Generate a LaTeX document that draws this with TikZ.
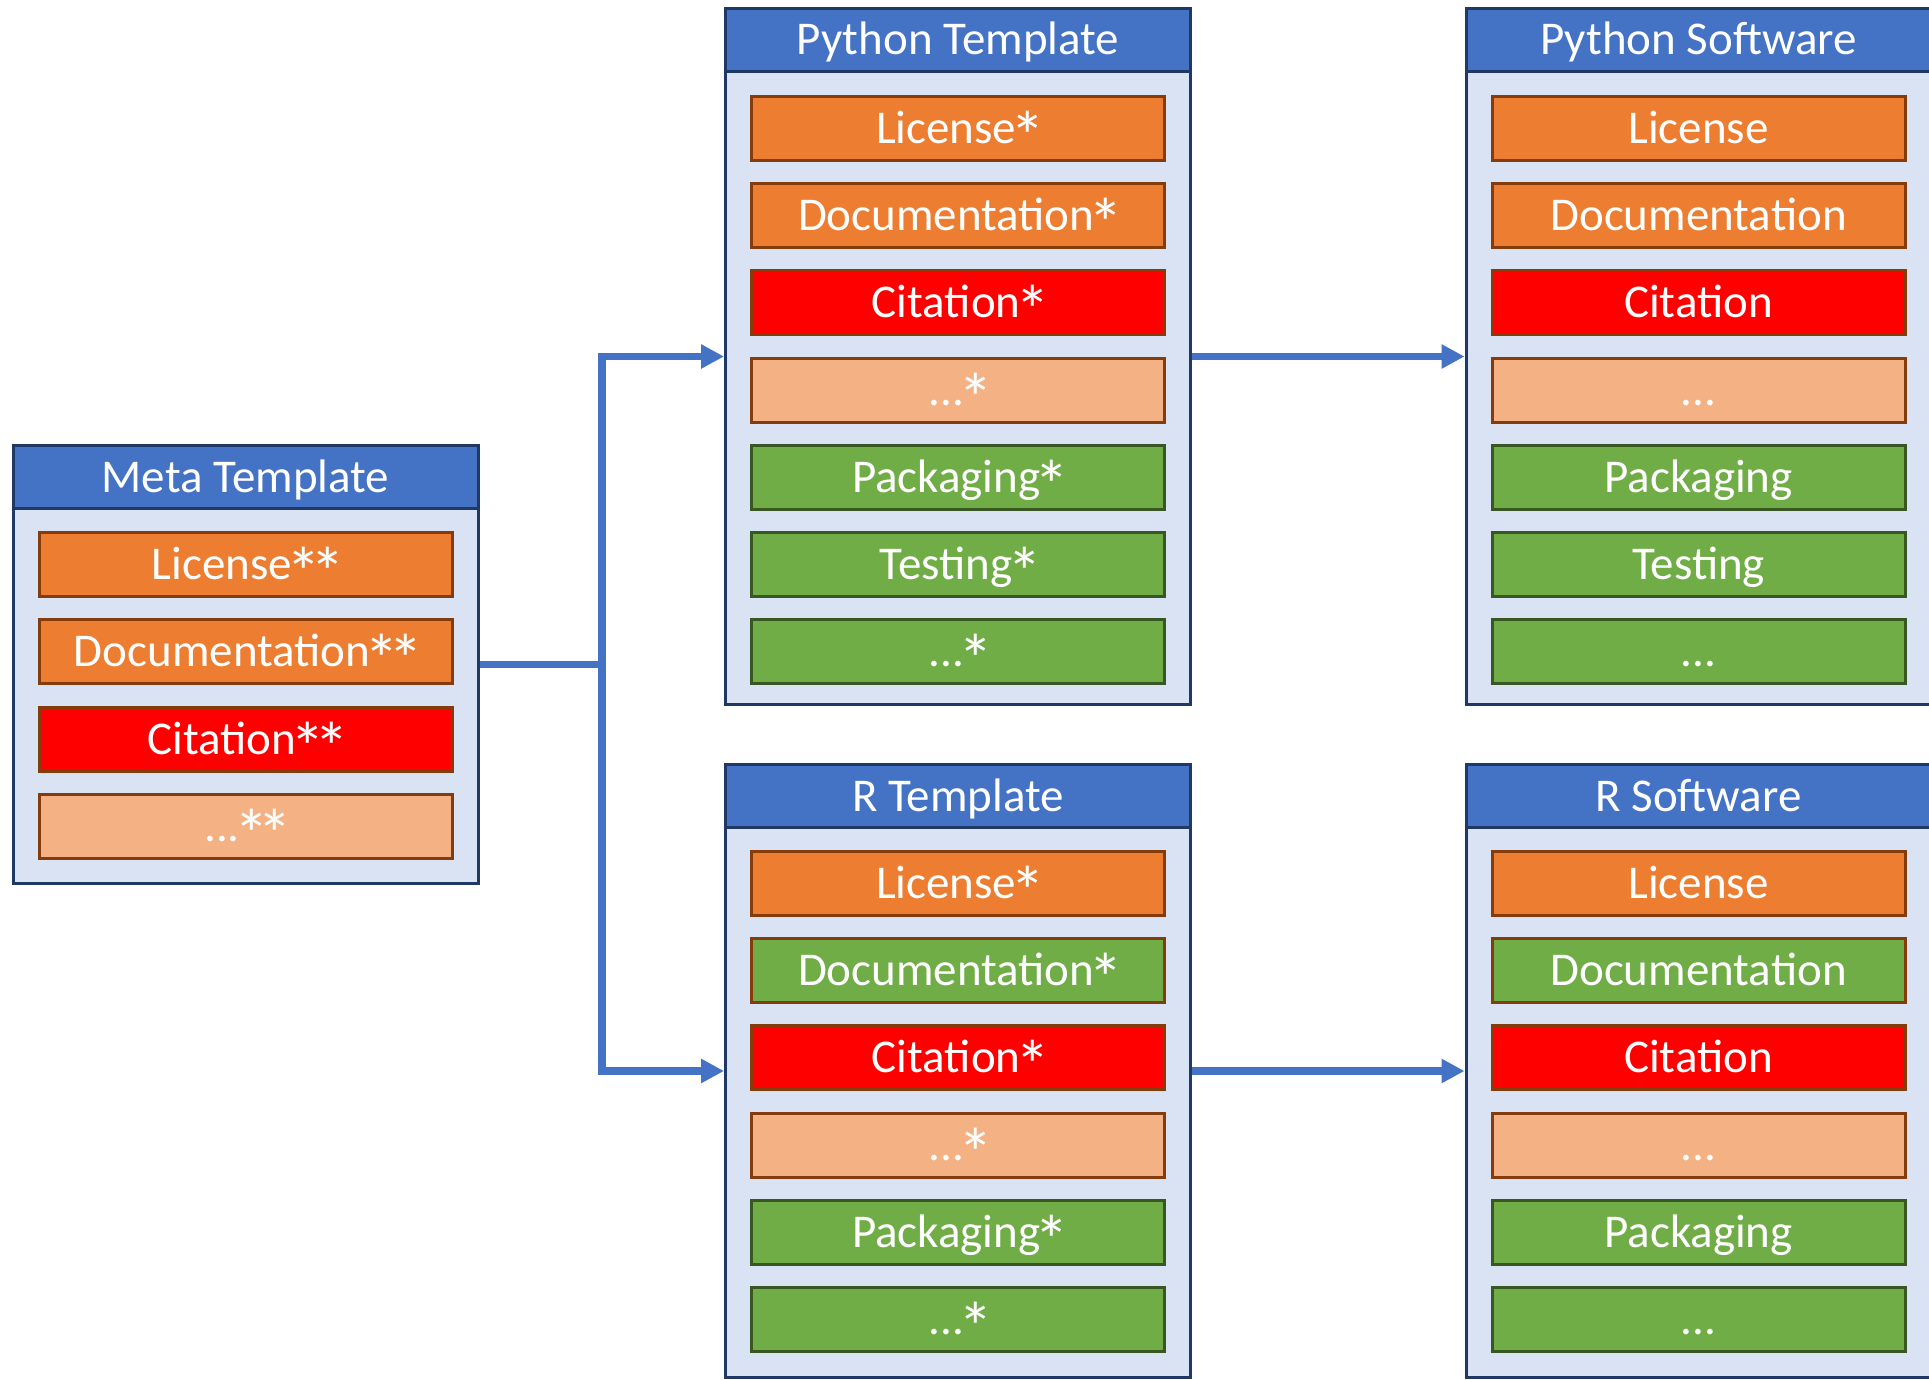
\documentclass[tikz,border=0pt]{standalone}
\usepackage{fontspec}
\usepackage{graphicx}
\setmainfont{Carlito}
\usetikzlibrary{arrows.meta}
\definecolor{hdrblue}{HTML}{4472C4}
\definecolor{panelfill}{HTML}{DAE3F3}
\definecolor{paneldraw}{HTML}{1F3864}
\definecolor{corange}{HTML}{ED7D31}
\definecolor{cred}{HTML}{FF0000}
\definecolor{clight}{HTML}{F4B183}
\definecolor{cgreen}{HTML}{70AD47}
\definecolor{bbrown}{HTML}{843C0C}
\definecolor{bgreen}{HTML}{385723}
\newcommand{\myast}{\makebox[0.5em]{\raisebox{-0.36em}{\scalebox{1.48}{*}}}}
\begin{document}
\begin{tikzpicture}[x=1pt,y=-1pt,
  bigfont/.style={font=\fontsize{47}{56}\selectfont},
  panel/.style={draw=paneldraw, fill=panelfill, line width=3pt, minimum width=465pt, inner sep=0pt},
  header/.style={draw=paneldraw, fill=hdrblue, line width=3pt, minimum width=465pt, minimum height=63pt, inner sep=0pt, text=white, text height=30pt, text depth=0pt, bigfont},
  itembox/.style={draw=bbrown, line width=3pt, minimum width=413pt, minimum height=64pt, inner sep=0pt, text=white, text height=30pt, text depth=0pt, bigfont},
  orangebox/.style={itembox, fill=corange},
  redbox/.style={itembox, fill=cred},
  lightbox/.style={itembox, fill=clight},
  greenbox/.style={itembox, fill=cgreen, draw=bgreen},
  greenbrown/.style={itembox, fill=cgreen, draw=bbrown},
  conn/.style={draw=hdrblue, line width=7.5pt},
  connarrow/.style={conn, -{Triangle[length=23pt,width=23pt]}}
]
\useasboundingbox (0,0) rectangle (1929,1380);
\fill[white] (0,0) rectangle (1929,1380);

% ---------- Meta Template ----------
\node[panel, minimum height=438pt] (meta) at (245.5,664.5) {};
\node[header] (metah) at (245.5,477) {Meta Template};
\node[orangebox] (m1) at (245.5,564.5) {License\myast\myast};
\node[orangebox] (m2) at (245.5,651.8) {Documentation\myast\myast};
\node[redbox]    (m3) at (245.5,739.1) {Citation\myast\myast};
\node[lightbox]  (m4) at (245.5,826.4) {...\myast\myast};

% ---------- Python Template ----------
\node[panel, minimum height=696pt] (pt) at (958,356.5) {};
\node[header] (pth) at (958,40) {Python Template};
\node[orangebox] (pt1) at (958,128.5) {License\myast};
\node[orangebox] (pt2) at (958,215.7) {Documentation\myast};
\node[redbox]    (pt3) at (958,302.9) {Citation\myast};
\node[lightbox]  (pt4) at (958,390.1) {...\myast};
\node[greenbox]  (pt5) at (958,477.3) {Packaging\myast};
\node[greenbox]  (pt6) at (958,564.5) {Testing\myast};
\node[greenbox]  (pt7) at (958,651.7) {...\myast};

% ---------- Python Software ----------
\node[panel, minimum height=696pt] (ps) at (1698.5,356.5) {};
\node[header] (psh) at (1698.5,40) {Python Software};
\node[orangebox] (ps1) at (1698.5,128.5) {License};
\node[orangebox] (ps2) at (1698.5,215.7) {Documentation};
\node[redbox]    (ps3) at (1698.5,302.9) {Citation};
\node[lightbox]  (ps4) at (1698.5,390.1) {...};
\node[greenbox]  (ps5) at (1698.5,477.3) {Packaging};
\node[greenbox]  (ps6) at (1698.5,564.5) {Testing};
\node[greenbox]  (ps7) at (1698.5,651.7) {...};

% ---------- R Template ----------
\node[panel, minimum height=613pt] (rt) at (958,1071) {};
\node[header] (rth) at (958,796) {R Template};
\node[orangebox]  (rt1) at (958,883.5) {License\myast};
\node[greenbrown] (rt2) at (958,970.7) {Documentation\myast};
\node[redbox]     (rt3) at (958,1057.9) {Citation\myast};
\node[lightbox]   (rt4) at (958,1145.1) {...\myast};
\node[greenbox]   (rt5) at (958,1232.3) {Packaging\myast};
\node[greenbox]   (rt6) at (958,1319.5) {...\myast};

% ---------- R Software ----------
\node[panel, minimum height=613pt] (rs) at (1698.5,1071) {};
\node[header] (rsh) at (1698.5,796) {R Software};
\node[orangebox]  (rs1) at (1698.5,883.5) {License};
\node[greenbrown] (rs2) at (1698.5,970.7) {Documentation};
\node[redbox]     (rs3) at (1698.5,1057.9) {Citation};
\node[lightbox]   (rs4) at (1698.5,1145.1) {...};
\node[greenbox]   (rs5) at (1698.5,1232.3) {Packaging};
\node[greenbox]   (rs6) at (1698.5,1319.5) {...};

% ---------- connectors ----------
\coordinate (split) at (602,664.5);
\draw[conn] (meta.east) -- (split);
\draw[connarrow] (split) |- (pt.west);
\draw[connarrow] (split) |- (rt.west);
\draw[connarrow] (pt.east) -- (ps.west);
\draw[connarrow] (rt.east) -- (rs.west);
\end{tikzpicture}
\end{document}
